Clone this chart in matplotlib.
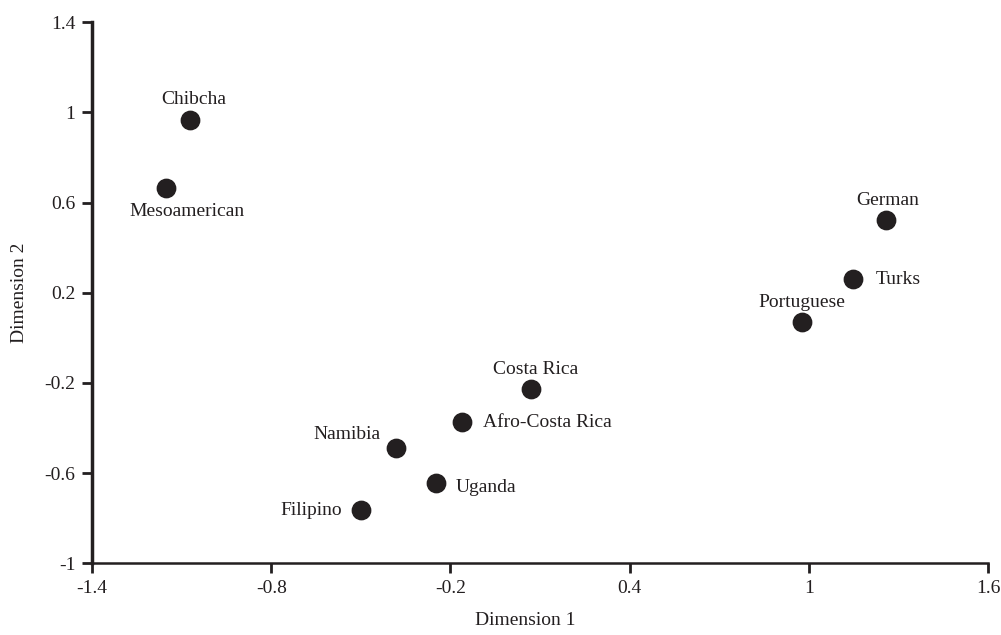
import matplotlib
matplotlib.use("Agg")
import matplotlib.pyplot as plt

groups = ["Chibcha", "Mesoamerican", "German", "Turks", "Portuguese",
          "Costa Rica", "Afro-Costa Rica", "Namibia", "Uganda", "Filipino"]
dim1 = [-1.072, -1.152, 1.258, 1.148, 0.977, 0.070, -0.161, -0.382, -0.248, -0.499]
dim2 = [0.965, 0.664, 0.522, 0.260, 0.069, -0.228, -0.374, -0.490, -0.645, -0.765]

xticks = [-1.4, -0.8, -0.2, 0.4, 1, 1.6]
yticks = [-1, -0.6, -0.2, 0.2, 0.6, 1, 1.4]

# label placement: (dx, dy) in points, ha, va
label_pos = {
    "Chibcha": (3, 9, "center", "bottom"),
    "Mesoamerican": (15, -11, "center", "top"),
    "German": (1, 8, "center", "bottom"),
    "Turks": (16, 0, "left", "center"),
    "Portuguese": (0, 8, "center", "bottom"),
    "Costa Rica": (3, 8, "center", "bottom"),
    "Afro-Costa Rica": (15, 0, "left", "center"),
    "Namibia": (-11, 4, "right", "bottom"),
    "Uganda": (14, -3, "left", "center"),
    "Filipino": (-14, 0, "right", "center"),
}

plt.rcParams['font.family'] = ['Liberation Serif', 'DejaVu Serif']
ink = '#231f20'
fs = 14

fig = plt.figure(figsize=(10.01, 6.35), dpi=100)
ax = fig.add_axes([0.092, 0.113, 0.895, 0.852])

ax.scatter(dim1, dim2, s=175, color=ink, zorder=3)
for name, x, y in zip(groups, dim1, dim2):
    dx, dy, ha, va = label_pos[name]
    ax.annotate(name, (x, y), xytext=(dx, dy), textcoords='offset points',
                ha=ha, va=va, fontsize=fs, color=ink)

ax.set_xlim(-1.4, 1.6)
ax.set_ylim(-1, 1.4)
ax.set_xticks(xticks)
ax.set_yticks(yticks)
ax.set_xticklabels([str(t) for t in xticks])
ax.set_yticklabels([str(t) for t in yticks])
ax.tick_params(labelsize=fs, colors=ink, length=7, width=2, pad=5)

for side in ['top', 'right']:
    ax.spines[side].set_visible(False)
ax.spines['left'].set_linewidth(2.5)
ax.spines['bottom'].set_linewidth(1.8)
for side in ['left', 'bottom']:
    ax.spines[side].set_color(ink)

ax.set_xlabel('Dimension 1', fontsize=fs, color=ink, labelpad=9)
ax.xaxis.set_label_coords(0.483, -0.09)
ax.set_ylabel('Dimension 2', fontsize=fs, color=ink, labelpad=12)

plt.savefig('out.png', dpi=100)
